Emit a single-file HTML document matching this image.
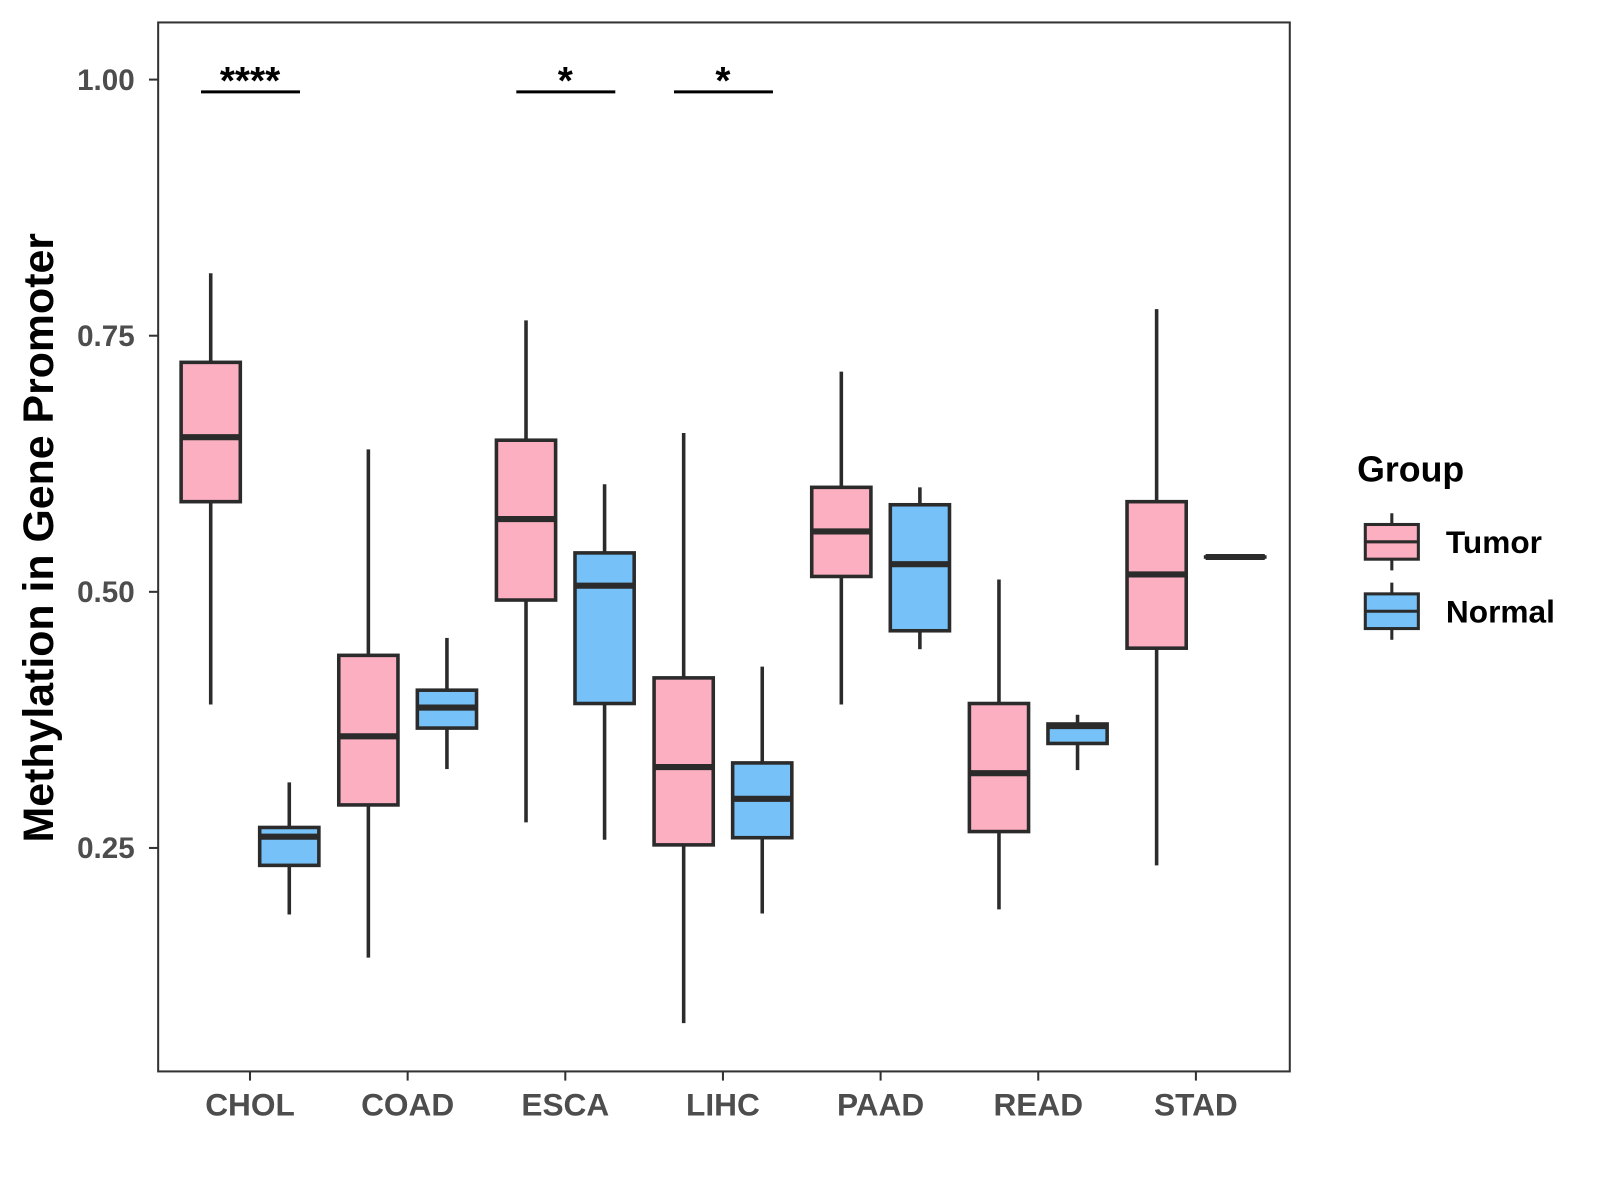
<!DOCTYPE html>
<html><head><meta charset="utf-8"><style>
html,body{margin:0;padding:0;background:#fff;}
svg{display:block;font-family:"Liberation Sans",Arial,sans-serif;}
</style></head><body>
<svg id="chart" width="1600" height="1200" viewBox="0 0 1600 1200">
<g transform="scale(1.0204)">
<rect x="155" y="22" width="1109" height="1028" fill="#fff" stroke="#333" stroke-width="2"/>
<g id="marks"></g>
<g id="axes"></g>
<text transform="translate(52,527) rotate(-90)" text-anchor="middle" font-size="42" font-weight="bold" fill="#000">Methylation in Gene Promoter</text>
<g>
<text x="1330" y="472" font-size="35" font-weight="bold" fill="#000">Group</text>
<g>
<line x1="1364" y1="503" x2="1364" y2="559" stroke="#2b2b2b" stroke-width="3"/>
<rect x="1338" y="514" width="52" height="34" fill="#fbafc0" stroke="#2b2b2b" stroke-width="3"/>
<line x1="1338" y1="531" x2="1390" y2="531" stroke="#2b2b2b" stroke-width="3"/>
<text x="1417" y="542" font-size="31" font-weight="bold" fill="#000">Tumor</text>
</g>
<g>
<line x1="1364" y1="571" x2="1364" y2="627" stroke="#2b2b2b" stroke-width="3"/>
<rect x="1338" y="582" width="52" height="34" fill="#76c1f7" stroke="#2b2b2b" stroke-width="3"/>
<line x1="1338" y1="599" x2="1390" y2="599" stroke="#2b2b2b" stroke-width="3"/>
<text x="1417" y="610" font-size="31" font-weight="bold" fill="#000">Normal</text>
</g>
</g>
</g>
</svg>
<script>
const categories = ["CHOL","COAD","ESCA","LIHC","PAAD","READ","STAD"];
// [lower whisker, q1, median, q3, upper whisker]
const tumorStats = [
 [0.390,0.588,0.651,0.724,0.811],
 [0.143,0.292,0.359,0.438,0.639],
 [0.275,0.492,0.571,0.648,0.765],
 [0.079,0.253,0.329,0.416,0.655],
 [0.390,0.515,0.559,0.602,0.715],
 [0.190,0.266,0.323,0.391,0.512],
 [0.233,0.445,0.517,0.588,0.776]];
const normalStats = [
 [0.185,0.233,0.261,0.270,0.314],
 [0.327,0.367,0.387,0.404,0.455],
 [0.258,0.391,0.506,0.538,0.605],
 [0.186,0.260,0.298,0.333,0.427],
 [0.444,0.462,0.527,0.585,0.602],
 [0.326,0.352,0.369,0.371,0.380],
 [0.534,0.534,0.534,0.534,0.534]];
const yTicks = [0.25,0.50,0.75,1.00];
const yTickLabels = ["0.25","0.50","0.75","1.00"];
const sigCategories = ["CHOL","ESCA","LIHC"];
const sigLabels = ["****","*","*"];
const sigY = 0.988;

const NS="http://www.w3.org/2000/svg";
const y = v => 78 + (1 - v) * 1004;
const x = i => 245 + i * 154.5;
const marks = document.getElementById('marks');
const axes = document.getElementById('axes');
function mk(tag, attrs, parent){const e=document.createElementNS(NS,tag);for(const k in attrs)e.setAttribute(k,attrs[k]);parent.appendChild(e);return e;}

function drawBox(s, cx, fill, name){
  const g = mk('g',{},marks);
  
  
  const hw=29;
  mk('line',{x1:cx,x2:cx,y1:y(s[4]),y2:y(s[3]),stroke:'#2b2b2b','stroke-width':3.5},g);
  mk('line',{x1:cx,x2:cx,y1:y(s[1]),y2:y(s[0]),stroke:'#2b2b2b','stroke-width':3.5},g);
  mk('rect',{x:cx-hw,y:y(s[3]),width:hw*2,height:Math.max(0.01,y(s[1])-y(s[3])),fill:fill,stroke:'#2b2b2b','stroke-width':3.5},g);
  mk('line',{x1:cx-hw,x2:cx+hw,y1:y(s[2]),y2:y(s[2]),stroke:'#2b2b2b','stroke-width':6},g);
}
categories.forEach((c,i)=>{
  drawBox(tumorStats[i], x(i)-38.5, '#fbafc0', 'box-tumor-'+c.toLowerCase());
  drawBox(normalStats[i], x(i)+38.5, '#76c1f7', 'box-normal-'+c.toLowerCase());
  const t=mk('line',{x1:x(i),x2:x(i),y1:1050,y2:1059,stroke:'#333','stroke-width':2},axes);
  
  
  const l=mk('text',{x:x(i),y:1093,'text-anchor':'middle','font-size':31,'font-weight':'bold',fill:'#4d4d4d'},axes);
  l.textContent=c;
  
  
});
yTicks.forEach((v,i)=>{
  const t=mk('line',{x1:146,x2:155,y1:y(v),y2:y(v),stroke:'#333','stroke-width':2},axes);
  
  
  const l=mk('text',{x:132,y:y(v)+10,'text-anchor':'end','font-size':29,'font-weight':'bold',fill:'#4d4d4d'},axes);
  l.textContent=yTickLabels[i];
  
  
});
sigCategories.forEach((c,k)=>{
  const i=categories.indexOf(c);
  const ln=mk('line',{x1:x(i)-48,x2:x(i)+49,y1:y(sigY),y2:y(sigY),stroke:'#000','stroke-width':3},marks);
  
  
  const t=mk('text',{x:x(i),y:y(sigY)+2,'text-anchor':'middle','font-size':38,'font-weight':'bold',fill:'#000'},marks);
  t.textContent=sigLabels[k];
  
  
});
</script>
</body></html>
